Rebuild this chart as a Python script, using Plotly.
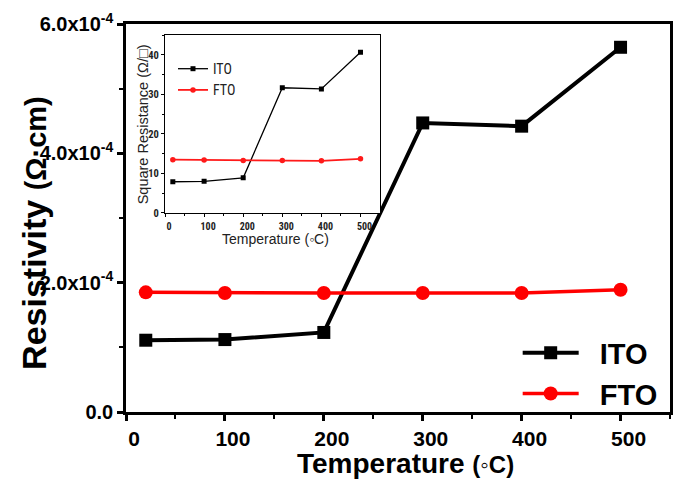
import plotly.graph_objects as go

# ---- data ----
temps = [20, 100, 200, 300, 400, 500]
ito_resistivity = [1.11e-4, 1.12e-4, 1.23e-4, 4.47e-4, 4.42e-4, 5.64e-4]
fto_resistivity = [1.85e-4, 1.84e-4, 1.84e-4, 1.84e-4, 1.84e-4, 1.89e-4]

ito_sheet = [7.9, 8.0, 8.9, 31.7, 31.4, 40.7]
fto_sheet = [13.5, 13.4, 13.3, 13.3, 13.2, 13.7]

series_names = ["ITO", "FTO"]
main_y_ticks = [0, 2e-4, 4e-4, 6e-4]
main_y_ticktext = ["0.0", "2.0x10<sup>-4</sup>", "4.0x10<sup>-4</sup>", "6.0x10<sup>-4</sup>"]
main_y_minor = [1e-4, 3e-4, 5e-4]
inset_y_ticks = [0, 10, 20, 30, 40]

BOLD = "Liberation Sans, Arial, sans-serif"
NARROW = "Liberation Sans Narrow, Arial Narrow, Roboto Condensed, DejaVu Sans Condensed, Liberation Sans, sans-serif"
REG = "Liberation Sans, Arial, sans-serif"
PAD = "\u00a0\u00a0"  # gap between the long legend sample line and its label

fig = go.Figure()

# main traces
fig.add_trace(go.Scatter(x=temps, y=ito_resistivity, mode="lines+markers", name=PAD + series_names[0],
                         line=dict(color="black", width=4),
                         marker=dict(symbol="square", size=13, color="black"),
                         xaxis="x", yaxis="y", legend="legend"))
fig.add_trace(go.Scatter(x=temps, y=fto_resistivity, mode="lines+markers", name=PAD + series_names[1],
                         line=dict(color="#ff0000", width=3.5),
                         marker=dict(symbol="circle", size=14, color="#ff0000"),
                         xaxis="x", yaxis="y", legend="legend"))

# inset traces
fig.add_trace(go.Scatter(x=temps, y=ito_sheet, mode="lines+markers", name=series_names[0],
                         line=dict(color="black", width=1.3),
                         marker=dict(symbol="square", size=5, color="black"),
                         xaxis="x2", yaxis="y2", legend="legend2"))
fig.add_trace(go.Scatter(x=temps, y=fto_sheet, mode="lines+markers", name=series_names[1],
                         line=dict(color="#ff1a1a", width=1.8),
                         marker=dict(symbol="circle", size=5.5, color="#ff1a1a"),
                         xaxis="x2", yaxis="y2", legend="legend2"))

# The page body has an 8px default margin, so the figure is sized to fill the
# 685x484 window from that offset.
fig.update_layout(
    width=677, height=476,
    margin=dict(l=118, r=15, t=16, b=72),
    paper_bgcolor="white", plot_bgcolor="white",
    xaxis=dict(range=[0, 550], tickmode="linear", tick0=0, dtick=100, automargin=False,
               showline=True, linecolor="black", linewidth=2.5, mirror=True,
               ticks="outside", ticklen=6, tickwidth=2.5, tickcolor="black",
               minor=dict(ticks="outside", ticklen=4, tickwidth=2, tickcolor="black", dtick=50, tick0=0),
               tickfont=dict(family=BOLD, size=21, color="black", weight="bold"),
               ticklabelshift=8,
               showgrid=False, zeroline=False),
    yaxis=dict(range=[0, 6e-4], tickmode="array", tickvals=main_y_ticks, ticktext=main_y_ticktext,
               automargin=False,
               showline=True, linecolor="black", linewidth=2.5, mirror=True,
               ticks="outside", ticklen=6, tickwidth=2.5, tickcolor="black",
               minor=dict(ticks="outside", ticklen=4, tickwidth=2, tickcolor="black",
                          tickmode="array", tickvals=main_y_minor),
               tickfont=dict(family=BOLD, size=20, color="black", weight="bold"),
               showgrid=False, zeroline=False),
    xaxis2=dict(domain=[0.0717, 0.467], anchor="y2", range=[0, 550], tickmode="linear", tick0=0, dtick=100,
                automargin=False,
                showline=True, linecolor="black", linewidth=1, mirror=True,
                ticks="outside", ticklen=3, tickwidth=1, tickcolor="black",
                minor=dict(ticks="outside", ticklen=2, tickwidth=1, tickcolor="black", dtick=50, tick0=0),
                tickfont=dict(family=NARROW, size=10, color="#222", weight="bold"),
                ticklabelshift=4, ticklabelstandoff=1,
                showgrid=False, zeroline=False),
    yaxis2=dict(domain=[0.513, 0.971], anchor="x2", range=[0, 45], tickmode="array", tickvals=inset_y_ticks,
                automargin=False,
                showline=True, linecolor="black", linewidth=1, mirror=True,
                ticks="outside", ticklen=3, tickwidth=1, tickcolor="black",
                minor=dict(ticks="outside", ticklen=2, tickwidth=1, tickcolor="black", dtick=5, tick0=0),
                tickfont=dict(family=NARROW, size=10.5, color="#222", weight="bold"),
                showgrid=False, zeroline=False),
    legend=dict(x=0.72, y=0.218, xanchor="left", yanchor="top",
                bgcolor="rgba(0,0,0,0)", font=dict(family=BOLD, size=29, color="black", weight="bold"),
                itemsizing="trace", tracegroupgap=0, itemwidth=56),
    legend2=dict(x=0.0864, y=0.925, xanchor="left", yanchor="top",
                 bgcolor="rgba(0,0,0,0)", font=dict(family=NARROW, size=14, color="#222"),
                 itemsizing="trace"),
    annotations=[
        dict(text="Resistivity <span style='font-size:29px'>(Ω·cm)</span>", textangle=-90,
             xref="paper", yref="paper", x=-0.168, y=0.4606, xanchor="center", yanchor="middle",
             showarrow=False, font=dict(family=BOLD, size=34, color="black", weight="bold")),
        dict(text="Temperature <span style='font-size:24px'>(◦C)</span>",
             xref="paper", yref="paper", x=0.5147, y=-0.1315, xanchor="center", yanchor="middle",
             showarrow=False, font=dict(family=BOLD, size=28, color="black", weight="bold")),
        dict(text="Square Resistance (Ω/□)", textangle=-90,
             xref="paper", yref="paper", x=0.0313, y=0.7415, xanchor="center", yanchor="middle",
             showarrow=False, font=dict(family=REG, size=14.5, color="#222")),
        dict(text="Temperature (◦C)",
             xref="paper", yref="paper", x=0.2739, y=0.446, xanchor="center", yanchor="middle",
             showarrow=False, font=dict(family=REG, size=14, color="#222")),
    ],
)

fig.write_html("out.html")
